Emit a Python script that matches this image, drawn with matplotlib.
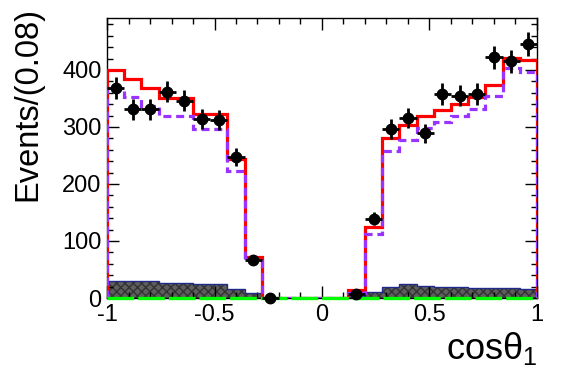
import numpy as np
import matplotlib
matplotlib.use('Agg')
import matplotlib.pyplot as plt
from matplotlib.ticker import MultipleLocator

plt.rcParams['font.family'] = ['Liberation Sans', 'DejaVu Sans']
plt.rcParams['mathtext.fontset'] = 'custom'
plt.rcParams['mathtext.rm'] = 'Liberation Sans'
plt.rcParams['mathtext.it'] = 'Liberation Sans'
plt.rcParams['axes.unicode_minus'] = False

# 25 bins of width 0.08 in cos(theta_1)
edges = np.linspace(-1, 1, 26)
centers = 0.5 * (edges[:-1] + edges[1:])

nan = np.nan
data = [368, 331, 331, 362, 346, 314, 312, 247, 67, 0, nan, nan, nan, nan,
        7, 139, 296, 316, 289, 358, 355, 358, 422, 415, 446]
total = [399, 384, 369, 350, 350, 323, 322, 244, 72, 0, 0, 0, 0, 0,
         14, 124, 281, 303, 319, 330, 341, 353, 374, 421, 417]
signal = [369, 352, 336, 320, 320, 296, 296, 222, 65, 0, 0, 0, 0, 0,
          8, 113, 258, 277, 298, 309, 319, 331, 354, 403, 397]
bkg = [29, 29, 30, 27, 27, 25, 25, 16, 9, 0, 0, 0, 0, 0,
       3, 10, 20, 24, 21, 19, 19, 17, 17, 17, 16]

fig = plt.figure(figsize=(5.65, 3.83), dpi=100)
ax = fig.add_axes([0.1894, 0.2219, 0.761, 0.731])

# background (hatched gray)
ax.stairs(bkg, edges, fill=True, facecolor='#5e5e5e', edgecolor='#333333',
          hatch='xxxx', linewidth=0, zorder=1)
ax.stairs(bkg, edges, color='#1f2a8a', lw=1, zorder=2)
# total fit and signal
ax.stairs(total, edges, color='red', lw=2.3, zorder=3)
ax.stairs(signal, edges, color='#9933ff', lw=2.3, ls=(0, (2.5, 1.5)), zorder=4)
ax.axhline(0, color='#00ff00', lw=2.4, ls=(0, (8, 1.2)), zorder=5, clip_on=False)

# data points
d = np.array(data, dtype=float)
ax.errorbar(centers, d, xerr=0.04, yerr=np.sqrt(d), fmt='o', color='black',
            ms=7.5, elinewidth=2, capsize=0, zorder=6, clip_on=False)

ax.set_xlim(-1, 1)
ax.set_ylim(0, 491)
ax.set_xticks([-1, -0.5, 0, 0.5, 1])
ax.set_xticklabels(['-1', '-0.5', '0', '0.5', '1'])
ax.xaxis.set_minor_locator(MultipleLocator(0.1))
ax.set_yticks([0, 100, 200, 300, 400])
ax.yaxis.set_minor_locator(MultipleLocator(20))
ax.tick_params(which='both', direction='in', top=True, right=True, width=1)
ax.tick_params(which='major', length=8.5, labelsize=17)
ax.tick_params(which='minor', length=4.5)
ax.tick_params(axis='x', pad=4)
ax.tick_params(axis='y', pad=4)
for s in ax.spines.values():
    s.set_linewidth(1)

ax.set_xlabel(r'cos$\theta_1$', fontsize=26, loc='right')
ax.xaxis.set_label_coords(1.0, -0.115)
ax.set_ylabel('Events/(0.08)', fontsize=23.5, loc='top')
ax.yaxis.set_label_coords(-0.149, 1.04)

fig.savefig('out.png', dpi=100)
